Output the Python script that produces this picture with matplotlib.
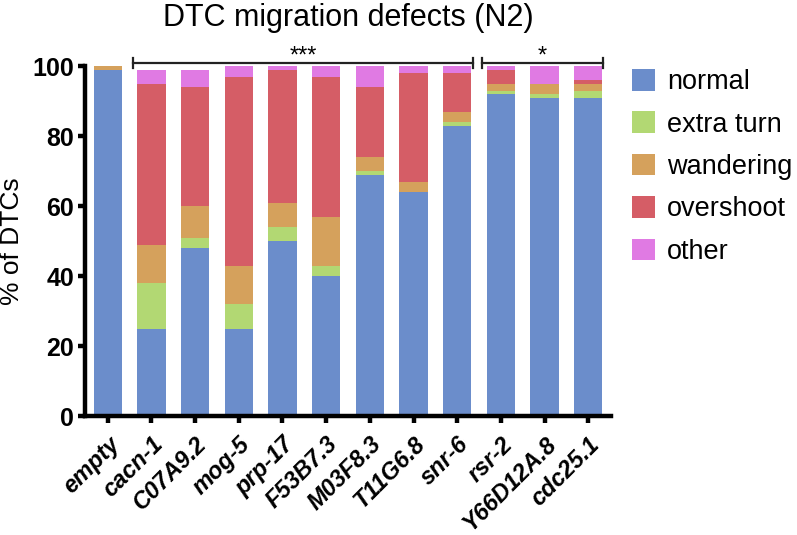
import matplotlib
matplotlib.use("Agg")
import matplotlib.pyplot as plt
import numpy as np

categories = ["empty", "cacn-1", "C07A9.2", "mog-5", "prp-17", "F53B7.3",
              "M03F8.3", "T11G6.8", "snr-6", "rsr-2", "Y66D12A.8", "cdc25.1"]
normal     = [99, 25, 48, 25, 50, 40, 69, 64, 83, 92, 91, 91]
extra_turn = [0, 13, 3, 7, 4, 3, 1, 0, 1, 1, 1, 2]
wandering  = [1, 11, 9, 11, 7, 14, 4, 3, 3, 2, 3, 2]
overshoot  = [0, 46, 34, 54, 38, 40, 20, 31, 11, 4, 0, 1]
other      = [0, 4, 5, 3, 1, 3, 6, 2, 2, 1, 5, 4]

series_names = ["normal", "extra turn", "wandering", "overshoot", "other"]
series = [normal, extra_turn, wandering, overshoot, other]
colors = ["#6b8dcb", "#b2d873", "#d5a15c", "#d55d66", "#e07ae3"]

plt.rcParams['font.family'] = ['Liberation Sans', 'DejaVu Sans']

fig = plt.figure(figsize=(7.97, 5.35), dpi=100)
ax = fig.add_axes([85/797, 1 - 416/535, (611-85)/797, (416-66)/535])

x = np.arange(len(categories))
bottom = np.zeros(len(categories))
handles = []
for name, vals, c in zip(series_names, series, colors):
    vals = np.array(vals, dtype=float)
    h = ax.bar(x, vals, width=0.65, bottom=bottom, color=c, label=name, linewidth=0)
    handles.append(h)
    bottom += vals

ax.set_xlim(-0.52, 11.52)
ax.set_ylim(0, 100)
ax.set_yticks([0, 20, 40, 60, 80, 100])
ax.set_xticks(x)
ax.set_xticklabels(categories, rotation=45, ha='right', va='top',
                   rotation_mode='anchor', fontsize=17, fontweight='bold',
                   fontstyle='italic')
for lbl in ax.get_yticklabels():
    lbl.set_fontsize(18)
    lbl.set_fontweight('bold')

for s in ['top', 'right']:
    ax.spines[s].set_visible(False)
for s in ['left', 'bottom']:
    ax.spines[s].set_linewidth(3.2)
ax.tick_params(axis='both', width=3.2, length=5, pad=3)
ax.tick_params(axis='x', pad=7)

ax.set_ylabel("% of DTCs", fontsize=19, labelpad=6)
fig.text(348/797, 1 - 26/535, "DTC migration defects (N2)", fontsize=22,
         ha='center', va='baseline')

# significance brackets
def bracket(x0, x1, y, text):
    ax.plot([x0, x1], [y, y], color='#222222', lw=1.6, clip_on=False)
    for xx in (x0, x1):
        ax.plot([xx, xx], [y - 1.5, y + 1.5], color='#222222', lw=1.6, clip_on=False)
    ax.text((x0 + x1) / 2, y, text, ha='center', va='baseline',
            fontsize=17, clip_on=False)

bracket(0.59, 8.37, 100.9, "***")
bracket(8.56, 11.33, 100.9, "*")

leg = fig.legend(handles=handles, labels=series_names, loc='upper left',
                 bbox_to_anchor=(632/797, 1 - 69/535), frameon=False,
                 fontsize=19.5, handlelength=0.85, handleheight=0.85,
                 handletextpad=0.45, labelspacing=0.6, borderpad=0,
                 borderaxespad=0)

fig.savefig("out.png", dpi=100)
